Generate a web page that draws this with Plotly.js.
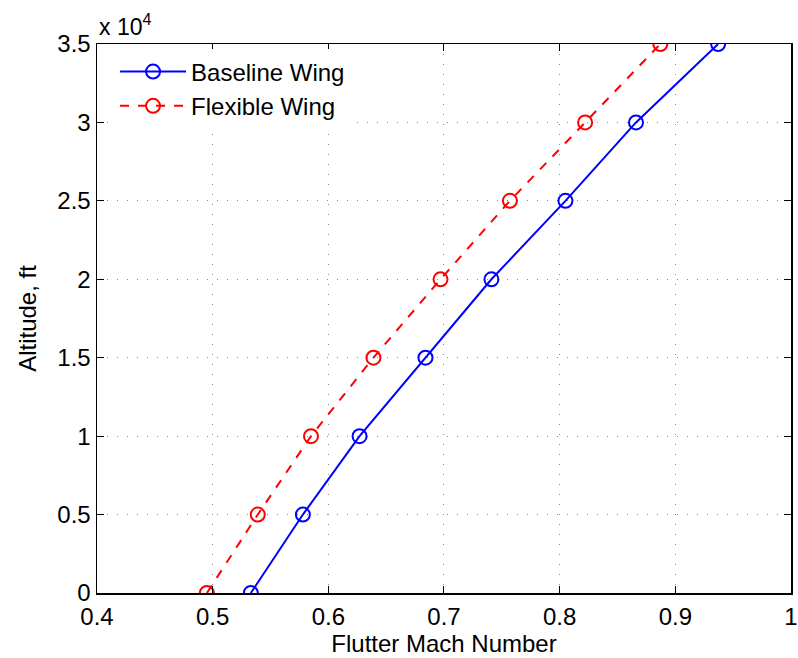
<!DOCTYPE html>
<html>
<head>
<meta charset="utf-8">
<script src="https://cdn.plot.ly/plotly-3.0.1.min.js"></script>
<style>html,body{margin:0;padding:0;background:#fff;}#chart{width:798px;height:658px;}</style>
</head>
<body>
<div id="chart"></div>
<script>
const altitudeFt = [0, 5000, 10000, 15000, 20000, 25000, 30000, 35000];
const baselineMach = [0.533, 0.578, 0.627, 0.684, 0.741, 0.805, 0.866, 0.937];
const flexibleMach = [0.495, 0.539, 0.585, 0.639, 0.697, 0.757, 0.822, 0.887];
const xTickVals = [0.4, 0.5, 0.6, 0.7, 0.8, 0.9, 1];
const xTickText = ["0.4", "0.5", "0.6", "0.7", "0.8", "0.9", "1"];
const yTickVals = [0, 5000, 10000, 15000, 20000, 25000, 30000, 35000];
const yTickText = ["0", "0.5", "1", "1.5", "2", "2.5", "3", "3.5"];

const font = "Liberation Sans, Arial, sans-serif";
const traces = [
  {x: baselineMach, y: altitudeFt, name: "Baseline Wing", type: "scatter", mode: "lines+markers",
   line: {color: "#0000ff", width: 2},
   marker: {symbol: "circle-open", size: 14, color: "#0000ff", line: {width: 2, color: "#0000ff"}}},
  {x: flexibleMach, y: altitudeFt, name: "Flexible Wing", type: "scatter", mode: "lines+markers",
   line: {color: "#ff0000", width: 2, dash: "dash"},
   marker: {symbol: "circle-open", size: 14, color: "#ff0000", line: {width: 2, color: "#ff0000"}}}
];
const axisCommon = {
  showline: true, linecolor: "#000", linewidth: 1.5, mirror: "ticks",
  ticks: "inside", ticklen: 7, tickcolor: "#000", tickwidth: 1,
  showgrid: true, gridcolor: "#888", griddash: "1px,9px", gridwidth: 1,
  zeroline: false, ticklabeloverflow: "allow", tickfont: {family: font, size: 24, color: "#000"}
};
const layout = {
  width: 798, height: 658,
  margin: {l: 97, r: 7, t: 44, b: 65},
  paper_bgcolor: "#fff", plot_bgcolor: "#fff",
  showlegend: true,
  legend: {x: 0.026, y: 0.99, xanchor: "left", yanchor: "top", bgcolor: "rgba(255,255,255,1)",
           borderwidth: 0, itemwidth: 66, font: {family: font, size: 24, color: "#000"}, tracegroupgap: 0},
  xaxis: Object.assign({}, axisCommon, {range: [0.4, 1.00001], tickvals: xTickVals, ticktext: xTickText,
    ticklabelstandoff: 2,
    title: {text: "Flutter Mach Number", font: {family: font, size: 24, color: "#000"}, standoff: 0}}),
  yaxis: Object.assign({}, axisCommon, {range: [0, 35000], tickvals: yTickVals, ticktext: yTickText,
    title: {text: "Altitude, ft", font: {family: font, size: 24, color: "#000"}, standoff: 14}}),
  annotations: [{xref: "paper", yref: "paper", x: 0, y: 1, xanchor: "left", yanchor: "bottom",
    yshift: 2, showarrow: false, text: "x 10<sup>4</sup>", font: {family: font, size: 23, color: "#000"}}]
};
Plotly.newPlot("chart", traces, layout, {displayModeBar: false, staticPlot: true});
</script>
</body>
</html>
